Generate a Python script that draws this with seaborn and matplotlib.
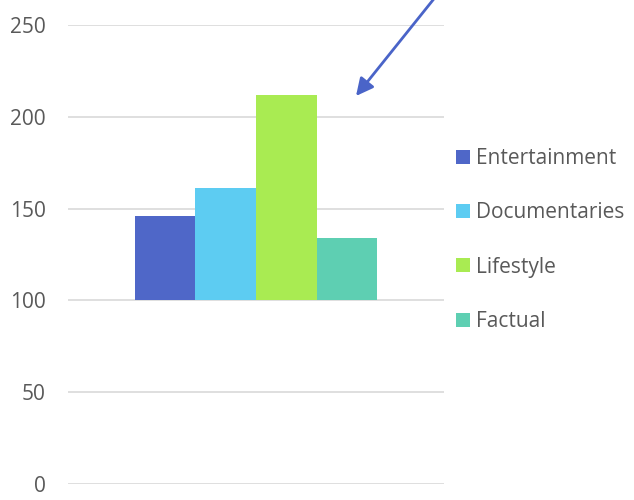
import matplotlib
matplotlib.use("Agg")
import matplotlib.pyplot as plt
import seaborn as sns
import pandas as pd

# Genre scores; the horizontal axis crosses at 100, so bars rise from there
genres = ["Entertainment", "Documentaries", "Lifestyle", "Factual"]
scores = [146, 161, 212, 134]
genre_colors = ["#4F67C8", "#5DCCF2", "#A9EB52", "#5ECFB2"]
y_ticks = [0, 50, 100, 150, 200, 250]
baseline = 100

df = pd.DataFrame({
    "group": ["all"] * len(genres),
    "genre": genres,
    "above": [s - baseline for s in scores],
})

sns.set_theme(style="white")
plt.rcParams["font.family"] = ["Open Sans", "DejaVu Sans"]

fig = plt.figure(figsize=(6.34, 5.0), dpi=100)
ax = fig.add_axes([68 / 634, 16 / 500, (444 - 68) / 634, (484 - 25) / 500])

sns.barplot(
    data=df, x="group", y="above", hue="genre", hue_order=genres,
    palette=genre_colors, bottom=baseline, width=0.646, errorbar=None,
    saturation=1, ax=ax, linewidth=0, zorder=3, legend=False,
)

ax.set_xlim(-0.5, 0.5)
ax.set_ylim(0, 250)
ax.set_yticks(y_ticks)
ax.set_yticklabels([str(t) for t in y_ticks])
ax.set_xticks([])
ax.set_xlabel("")
ax.set_ylabel("")
for s in ax.spines.values():
    s.set_visible(False)
ax.yaxis.grid(True, color="#D9D9D9", linewidth=1.2, zorder=0)
ax.set_axisbelow(True)
ax.tick_params(axis="y", length=0, pad=16, labelsize=15, labelcolor="#595959")

handles = list(ax.patches)[:len(genres)]
ax.legend(
    handles, genres, loc="center left", bbox_to_anchor=(456 / 634, 1 - 240 / 500),
    bbox_transform=fig.transFigure, frameon=False, fontsize=15,
    labelcolor="#595959", handlelength=0.65, handleheight=0.65,
    handletextpad=0.3, labelspacing=1.6, borderaxespad=0, borderpad=0,
)

# Callout arrow pointing down at the Lifestyle bar
ax.annotate(
    "", xy=(356, 500 - 96), xycoords="figure pixels",
    xytext=(441, 510), textcoords="figure pixels",
    arrowprops=dict(arrowstyle="-|>", color="#4A64C8", lw=2,
                    mutation_scale=26, shrinkA=0, shrinkB=0),
    annotation_clip=False,
)

fig.savefig("out.png", dpi=100)
